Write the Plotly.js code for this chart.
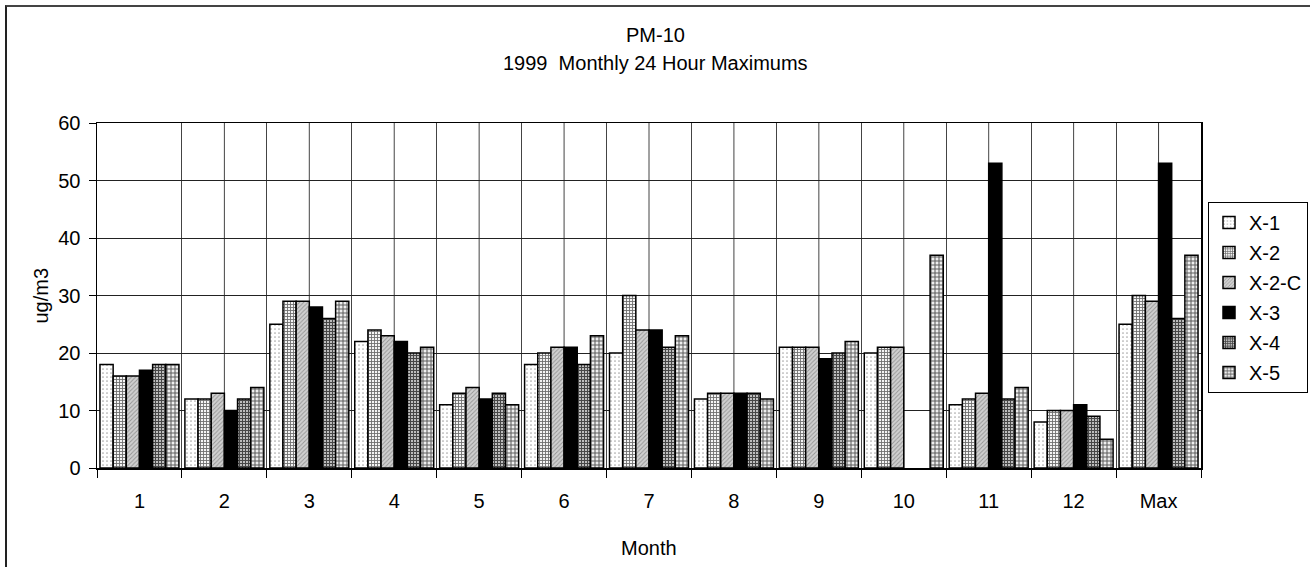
<!DOCTYPE html>
<html>
<head>
<meta charset="utf-8">
<script src="https://cdn.plot.ly/plotly-3.0.1.min.js"></script>
<style>
  html, body { margin: 0; padding: 0; background: #fff; overflow: hidden; }
  #wrap { position: relative; width: 1310px; height: 567px; }
  #chart { position: absolute; left: 0; top: 0; width: 1310px; height: 567px; }
  #frame { position: absolute; left: 5px; top: 5px; width: 1400px; height: 700px;
           border-top: 2px solid #444; border-left: 2px solid #222; pointer-events: none; }
</style>
</head>
<body>
<div id="wrap">
  <div id="chart"></div>
  <div id="frame"></div>
</div>
<script>
const categories = ['1','2','3','4','5','6','7','8','9','10','11','12','Max'];
const seriesNames = ['X-1','X-2','X-2-C','X-3','X-4','X-5'];
const x1  = [18,12,25,22,11,18,20,12,21,20,11, 8,25];
const x2  = [16,12,29,24,13,20,30,13,21,21,12,10,30];
const x2c = [16,13,29,23,14,21,24,13,21,21,13,10,29];
const x3  = [17,10,28,22,12,21,24,13,19,null,53,11,53];
const x4  = [18,12,26,20,13,18,21,13,20,null,12, 9,26];
const x5  = [18,14,29,21,11,23,23,12,22,37,14, 5,37];
const seriesValues = [x1, x2, x2c, x3, x4, x5];
const titleLines = ['PM-10', '1999  Monthly 24 Hour Maximums'];
const xTitle = 'Month';
const yTitle = 'ug/m3';

const styles = [
  {color:'#ffffff', pattern:{shape:'.', fgcolor:'#a8a8a8', bgcolor:'#ffffff', size:4, solidity:0.15}},
  {color:'#ffffff', pattern:{shape:'+', fgcolor:'#6e6e6e', bgcolor:'#f4f4f4', size:3, solidity:0.5}},
  {color:'#c4c4c4', pattern:{shape:'/', fgcolor:'#949494', bgcolor:'#d0d0d0', size:3, solidity:0.3}},
  {color:'#000000', pattern:{shape:''}},
  {color:'#555555', pattern:{shape:'+', fgcolor:'#474747', bgcolor:'#c4c4c4', size:3, solidity:0.6}},
  {color:'#777777', pattern:{shape:'+', fgcolor:'#5e5e5e', bgcolor:'#eeeeee', size:4, solidity:0.45}}
];

const FONT = 'Liberation Sans, Arial, sans-serif';
const FS = 20;

const traces = seriesNames.map((name, i) => ({
  type: 'bar',
  name: name,
  x: categories,
  y: seriesValues[i],
  legendgroup: name,
  marker: {
    color: styles[i].color,
    pattern: styles[i].pattern,
    line: {color: '#000000', width: 1.5}
  },
  hoverinfo: 'x+y+name'
}));

// vertical gridlines at category centres (the boundary ones come from the axis)
const shapes = categories.map(c => ({
  type: 'line', xref: 'x', yref: 'y', x0: c, x1: c, y0: 0, y1: 60,
  line: {color: '#444', width: 1}, layer: 'below'
}));

const layout = {
  width: 1310, height: 567,
  margin: {l: 97, r: 109, t: 123, b: 99, autoexpand: false},
  paper_bgcolor: '#ffffff',
  plot_bgcolor: '#ffffff',
  font: {family: FONT, size: FS, color: '#000'},
  barmode: 'group',
  bargap: 0.07,
  bargroupgap: 0,
  showlegend: true,
  legend: {
    x: (1208-97)/1104, xanchor: 'left', y: (468-202)/345, yanchor: 'top',
    bordercolor: '#000', borderwidth: 1, bgcolor: '#fff',
    font: {family: FONT, size: FS, color: '#000'},
    tracegroupgap: 1, itemwidth: 30
  },
  annotations: [
    {text: titleLines[0], xref: 'paper', yref: 'paper', x: (655-97)/1104, y: (468-35)/345, showarrow: false,
     xanchor: 'center', yanchor: 'middle', font: {family: FONT, size: FS, color: '#000'}},
    {text: titleLines[1], xref: 'paper', yref: 'paper', x: (655-97)/1104, y: (468-63)/345, showarrow: false,
     xanchor: 'center', yanchor: 'middle', font: {family: FONT, size: FS, color: '#000'}},
    {text: xTitle, xref: 'paper', yref: 'paper', x: 0.5, y: (468-548)/345, showarrow: false,
     xanchor: 'center', yanchor: 'middle', font: {family: FONT, size: FS, color: '#000'}},
    {text: yTitle, xref: 'paper', yref: 'paper', x: (40-97)/1104, y: 0.5, showarrow: false, textangle: -90,
     xanchor: 'center', yanchor: 'middle', font: {family: FONT, size: FS, color: '#000'}}
  ],
  shapes: shapes,
  xaxis: {
    type: 'category',
    categoryorder: 'array', categoryarray: categories,
    range: [-0.5, categories.length - 0.5],
    tickson: 'boundaries',
    ticks: 'outside', ticklen: 8, tickcolor: '#000', tickwidth: 1,
    ticklabelstandoff: 14,
    showgrid: true, gridcolor: '#444', gridwidth: 1,
    showline: true, linecolor: '#000', linewidth: 1.5, mirror: true,
    tickfont: {family: FONT, size: FS, color: '#000'},
    fixedrange: true
  },
  yaxis: {
    range: [0, 60], dtick: 10, tick0: 0,
    ticks: 'outside', ticklen: 7, tickcolor: '#000', tickwidth: 1,
    ticklabelstandoff: 4,
    showgrid: true, gridcolor: '#222', gridwidth: 1,
    showline: true, linecolor: '#000', linewidth: 1.5, mirror: true,
    zeroline: false,
    tickfont: {family: FONT, size: FS, color: '#000'},
    fixedrange: true
  }
};

Plotly.newPlot('chart', traces, layout, {displayModeBar: false, staticPlot: true});
</script>
</body>
</html>
